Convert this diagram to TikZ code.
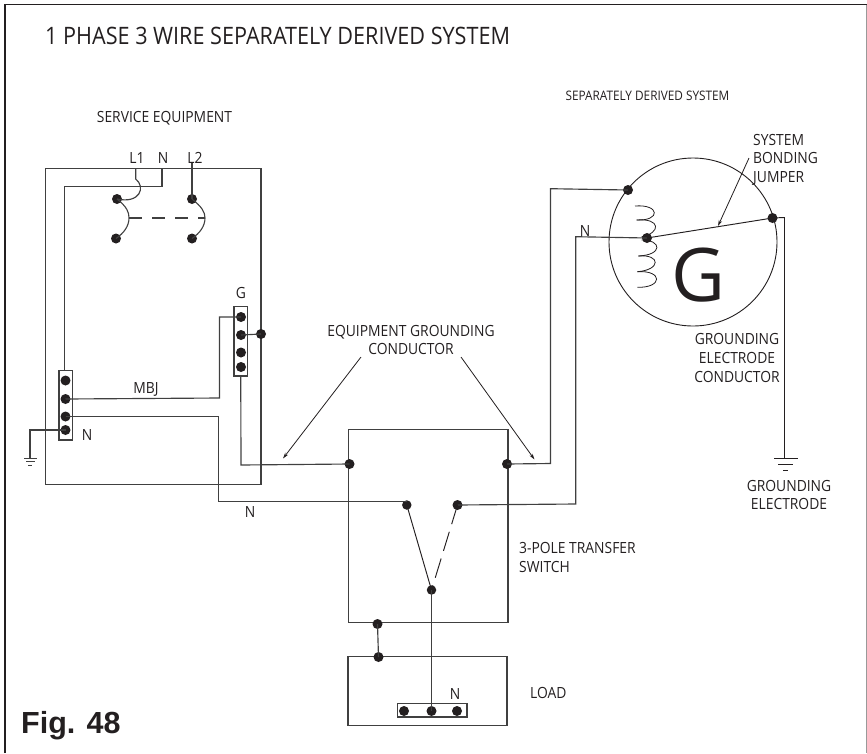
\documentclass[tikz,border=0pt]{standalone}
\usepackage{fontspec}
\setmainfont[FakeStretch=0.9]{Open Sans}
\newfontfamily\bigfont{Open Sans}
\newfontfamily\figfont[Ligatures=TeX]{Liberation Sans}
\definecolor{ink}{HTML}{231F20}
\definecolor{wire}{HTML}{404040}
\usetikzlibrary{arrows.meta}
\tikzset{
  x=1pt,y=-1pt,
  wireline/.style={draw=wire,line width=1.15pt,line join=miter},
  thinline/.style={draw=ink,line width=0.95pt},
  pointer/.style={draw=ink,line width=0.8pt,-{Stealth[length=6pt,width=3.5pt]}},
  boxbody/.style={draw=wire,line width=1.15pt,rectangle,inner sep=0pt,anchor=center,fill=none},
  bar/.style={draw=wire,line width=1.1pt,rectangle,inner sep=0pt,fill=white},
  dot/.style={circle,fill=ink,draw=none,inner sep=0pt,minimum size=#1},
  dot/.default=10pt,
  lab/.style={text=ink,inner sep=0pt,align=center,font=\fontsize{15.4}{18.6}\selectfont},
  labl/.style={lab,align=left,anchor=west},
}
\begin{document}
\begin{tikzpicture}
\useasboundingbox (0,0) rectangle (867,753);
% frame
\coordinate (fa) at (5,753); \coordinate (fb) at (5,4.7); \coordinate (fc) at (866.5,4.7); \coordinate (fd) at (866.5,753);
\draw[draw=ink,line width=1.1pt] (fa) -- (fb) -- (fc);
\draw[draw=black!40,line width=1.3pt] (fc) -- (fd);
% boxes
\node[boxbody,minimum width=215.5pt,minimum height=315.5pt] (svc) at (153.25,326.5) {};
\node[boxbody,minimum width=159.5pt,minimum height=193pt] (xfer) at (428.25,526) {};
\node[boxbody,minimum width=159pt,minimum height=68.6pt] (load) at (427.5,691) {};
\node[circle,draw=ink,line width=0.9pt,minimum size=168pt,inner sep=0pt] (gen) at (693,242) {};
% coordinates
\coordinate (l1t) at (135.7,168);
\coordinate (nt) at (162,168);
\coordinate (l2t) at (192,163);
% dots
\node[dot] (bl1) at (117,199) {};
\node[dot] (bl2) at (116,238.5) {};
\node[dot] (br1) at (192,199) {};
\node[dot] (br2) at (192,238.5) {};
\coordinate (bml) at (129,218);
\coordinate (bmr) at (205,218);
% wires behind bars
\draw[wireline] (nt) -- (162,186.5) -- (64.5,186.5) -- (64.5,372);
\draw[wireline] (l1t) -- (135.7,179) .. controls (146,187) and (140,204) .. (bl1.center);
\draw[wireline] (l2t) -- (br1.center);
\draw[wireline,line width=1.1pt] (bl1.center) .. controls (127,207) and (129,212) .. (bml) .. controls (129,226) and (124,233) .. (bl2.center);
\draw[wireline,line width=1.1pt] (br1.center) .. controls (202,207) and (205,212) .. (bmr) .. controls (205,226) and (200,233) .. (br2.center);
\draw[wireline,dash pattern=on 13pt off 10pt] (bml) -- (bmr);
% bars
\node[bar,minimum width=13.5pt,minimum height=69.5pt] (nbar) at (65.75,405.25) {};
\node[bar,minimum width=13.5pt,minimum height=69.5pt] (gbar) at (240.75,341.25) {};
\node[bar,minimum width=69.5pt,minimum height=13.5pt] (lbar) at (432.25,710.25) {};
\node[dot] (n1) at (65.5,380.5) {};
\node[dot] (n2) at (65.5,399) {};
\node[dot] (n3) at (65.5,416.5) {};
\node[dot] (n4) at (65.5,430) {};
\node[dot] (g1) at (241,317) {};
\node[dot] (g2) at (241,335) {};
\node[dot] (g3) at (241,352.5) {};
\node[dot] (g4) at (241,367) {};
\node[dot] (gs) at (261,334) {};
\node[dot] (xl) at (349.5,464) {};
\node[dot] (xr) at (507,464) {};
\node[dot,minimum size=9.5pt] (sa) at (406.8,505) {};
\node[dot] (sb) at (457.5,505) {};
\node[dot,minimum size=9.5pt] (sc) at (431.5,590) {};
\node[dot] (xb) at (377.5,624) {};
\node[dot] (lt) at (378.5,657) {};
\node[dot] (la) at (404,711) {};
\node[dot] (lb) at (431.5,711) {};
\node[dot] (lc) at (457,711) {};
\node[dot] (ga) at (628,190) {};
\node[dot] (gn) at (647,238) {};
\node[dot] (gb) at (772.5,218) {};
% connectors
\draw[wireline] (g1.center) -- (219.5,317) -- (219.5,398) -- (n2.center);
\draw[wireline] (n3.center) -- (218.5,416.5) -- (218.5,501.7) -- (407,501.7);
\draw[wireline] (gbar.south) -- (241,465) -- (xl.center);
\draw[wireline] (g2.center) -- (gs.center);
\draw[wireline] (n4.center) -- (30,430) -- (30,458);
\draw[wireline] (xr.center) -- (550.5,463.5) -- (550.5,188.7) -- (ga.center);
\draw[wireline] (sb.center) -- (575.7,504) -- (575.7,236.7) -- (gn.center);
\draw[thinline] (gn.center) -- (gb.center);
\draw[thinline] (gb.center) -- (784.5,217.5) -- (784.5,458.7);
\draw[thinline] (sa.center) -- (sc.center);
\draw[thinline,dash pattern=on 20pt off 8pt] (sb.center) -- (sc.center);
\draw[wireline] (sc.center) -- (lb.center);
\draw[wireline] (xb.center) -- (lt.center);
% coil
\draw[draw=ink,line width=0.8pt] (635,206) .. controls (660,204) and (661,221) .. (636.7,220);
\draw[draw=ink,line width=0.8pt] (636.7,220) .. controls (661,218) and (661,233) .. (641.7,236.7);
\draw[draw=ink,line width=0.8pt] (641.7,240) .. controls (662,240) and (663,255) .. (638.3,256);
\draw[draw=ink,line width=0.8pt] (638.3,256) .. controls (661,254) and (661,270) .. (637.3,271.7);
\draw[draw=ink,line width=0.8pt] (637.3,271.7) .. controls (663,270) and (663,288) .. (637.3,287.3);
% ground symbols
\coordinate (g1a) at (24,458); \coordinate (g1b) at (36.7,458);
\coordinate (g2a) at (26,461.6); \coordinate (g2b) at (35,461.6);
\coordinate (g3a) at (28,465); \coordinate (g3b) at (32,465);
\draw[wireline,line width=1pt] (g1a) -- (g1b) (g2a) -- (g2b) (g3a) -- (g3b);
\coordinate (r1a) at (774,458.7); \coordinate (r1b) at (798,458.7);
\coordinate (r2a) at (778,464.7); \coordinate (r2b) at (793,464.7);
\coordinate (r3a) at (783,470.7); \coordinate (r3b) at (788,470.7);
\draw[thinline] (r1a) -- (r1b) (r2a) -- (r2b) (r3a) -- (r3b);
% texts
\node[lab,anchor=west,font=\fontsize{24}{28}\selectfont] (title) at (45,36) {1 PHASE 3 WIRE SEPARATELY DERIVED SYSTEM};
\node[lab] (tsvc) at (164.5,118.5) {SERVICE EQUIPMENT};
\node[lab,font=\fontsize{13.1}{16}\selectfont] (tsds) at (647.5,96) {SEPARATELY DERIVED SYSTEM};
\node[labl] (tjmp) at (753,159.5) {SYSTEM\\BONDING\\JUMPER};
\node[lab] (tl1) at (137,158) {L1};
\node[lab] (tn) at (163,158) {N};
\node[lab] (tl2) at (195,158) {L2};
\node[lab] (tg) at (241,293) {G};
\node[lab] (tmbj) at (146,389) {MBJ};
\node[lab] (tnb) at (87,435) {N};
\node[lab] (tn2) at (250,512) {N};
\node[lab] (tn3) at (585,231) {N};
\node[lab] (teq) at (411,340) {EQUIPMENT GROUNDING\\CONDUCTOR};
\node[lab] (tgec) at (737,358) {GROUNDING\\ELECTRODE\\CONDUCTOR};
\node[lab] (tge) at (789,495) {GROUNDING\\ELECTRODE};
\node[labl] (tsw) at (519,557.5) {3-POLE TRANSFER\\SWITCH};
\node[lab] (tln) at (455,694) {N};
\node[labl] (tload) at (530,693) {LOAD};
\node[lab,font=\bigfont\fontsize{74}{74}\selectfont] (tG) at (698,275) {G};
\node[anchor=base west,inner sep=0pt,text=ink,font=\figfont\bfseries\fontsize{30.5}{32}\selectfont] (tfig) at (21,733) {Fig. 48};
% pointers
\coordinate (p1) at (361,357); \coordinate (p1e) at (283,458.5);
\coordinate (p2) at (461,357); \coordinate (p2e) at (534.5,459.5);
\coordinate (p3) at (749,158); \coordinate (p3e) at (718,226);
\draw[pointer] (p1) -- (p1e);
\draw[pointer] (p2) -- (p2e);
\draw[pointer] (p3) -- (p3e);
\end{tikzpicture}
\end{document}
